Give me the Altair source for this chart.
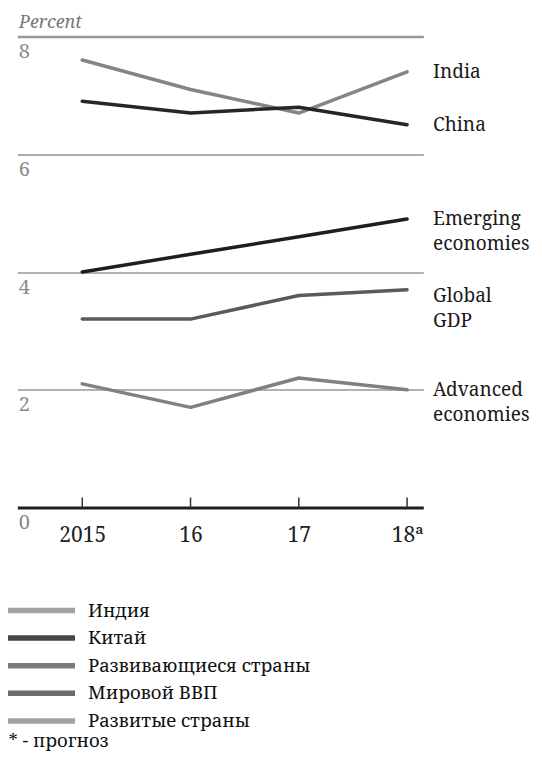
import altair as alt
import pandas as pd

# ---- data ----
years = [2015, 2016, 2017, 2018]
tick_labels = ["2015", "16", "17", "18ª"]
series_keys = ["India", "China", "Emerging economies", "Global GDP", "Advanced economies"]
end_labels = ["India", "China", "Emerging\neconomies", "Global\nGDP", "Advanced\neconomies"]
india = [7.6, 7.1, 6.7, 7.4]
china = [6.9, 6.7, 6.8, 6.5]
emerging = [4.0, 4.3, 4.6, 4.9]
global_gdp = [3.2, 3.2, 3.6, 3.7]
advanced = [2.1, 1.7, 2.2, 2.0]
y_ticks = [0, 2, 4, 6, 8]
legend_names = ["Индия", "Китай", "Развивающиеся страны", "Мировой ВВП", "Развитые страны"]
footnote = "* - прогноз"
y_title = "Percent"

# ---- styles ----
line_colors = ["#858585", "#262626", "#1e1e1e", "#5a5a5a", "#808080"]
legend_colors = ["#a2a2a2", "#474747", "#7a7a7a", "#6b6b6b", "#a2a2a2"]
SERIF = "Noto Serif"

values = [india, china, emerging, global_gdp, advanced]
rows = []
for key, vals in zip(series_keys, values):
    for yr, v in zip(years, vals):
        rows.append({"series": key, "year": yr, "value": v})
df = pd.DataFrame(rows)

lab_df = pd.DataFrame({
    "series": series_keys,
    "label": end_labels,
    "year": [years[-1]] * len(series_keys),
    "value": [v[-1] for v in values],
})

ticks_df = pd.DataFrame({"year": years})
title_df = pd.DataFrame({"t": [y_title]})

x_scale = alt.Scale(domain=[2014.4, 2018.15], nice=False, zero=False)
y_scale = alt.Scale(domain=[0, 8], nice=False)

label_expr = " : ".join(
    f"datum.value == {y} ? '{t}'" for y, t in zip(years, tick_labels)
) + " : ''"

x_axis = alt.Axis(
    values=years, labelExpr=label_expr, title=None, grid=False, ticks=False, tickSize=0,
    domain=True, domainColor="#1e1e1e", domainWidth=3,
    labelFont=SERIF, labelFontSize=21, labelColor="#222222", labelPadding=17,
    labelBaseline="top", labelAlign="center",
)
y_axis = alt.Axis(
    values=y_ticks, format="d", title=None, domain=False, ticks=False, tickSize=0,
    labelAlign="left", labelBaseline="top", labelPadding=-1, labelOffset=5,
    labelFont=SERIF, labelFontSize=20, labelColor="#8a8a8a",
    grid=True,
    gridColor={"condition": {"test": "datum.value == 6", "value": "#ababab"}, "value": "#979797"},
    gridWidth={"condition": [{"test": "datum.value == 8", "value": 2.6},
                             {"test": "datum.value == 6", "value": 2.2}], "value": 1.3},
    gridOpacity={"condition": {"test": "datum.value == 0", "value": 0}, "value": 1},
)

lines = alt.Chart(df).mark_line(strokeWidth=3.5, strokeCap="round", strokeJoin="round").encode(
    x=alt.X("year:Q", scale=x_scale, axis=x_axis),
    y=alt.Y("value:Q", scale=y_scale, axis=y_axis),
    color=alt.Color("series:N", scale=alt.Scale(domain=series_keys, range=line_colors), legend=None),
    detail="series:N",
)

ticks = alt.Chart(ticks_df).mark_rule(color="#333333", strokeWidth=1.5).encode(
    x=alt.X("year:Q", scale=x_scale),
    y=alt.value(471),
    y2=alt.value(461),
)

label_style = dict(align="left", baseline="middle", dx=26, font=SERIF, fontSize=19,
                   lineBreak="\n", lineHeight=25, color="#1a1a1a")
labels_main = alt.Chart(lab_df).transform_filter(
    "datum.series != 'Global GDP'"
).mark_text(**label_style).encode(
    x=alt.X("year:Q", scale=x_scale),
    y=alt.Y("value:Q", scale=y_scale),
    text="label:N",
)
labels_gdp = alt.Chart(lab_df).transform_filter(
    "datum.series == 'Global GDP'"
).mark_text(dy=6, **label_style).encode(
    x=alt.X("year:Q", scale=x_scale),
    y=alt.Y("value:Q", scale=y_scale),
    text="label:N",
)

title_txt = alt.Chart(title_df).mark_text(
    align="left", baseline="middle", font=SERIF, fontSize=18, fontStyle="italic", color="#777777",
).encode(x=alt.value(1.5), y=alt.value(-14), text="t:N")

main = alt.layer(lines, ticks, labels_main, labels_gdp, title_txt)

# ---- legend below the plot ----
leg_domain = legend_names + [footnote]
leg_scale = alt.Scale(type="point", domain=leg_domain, range=[574, 712], padding=0)
leg_df = pd.DataFrame({"name": legend_names})
foot_df = pd.DataFrame({"name": [footnote]})

leg_rules = alt.Chart(leg_df).mark_rule(strokeWidth=5.5).encode(
    x=alt.value(-9.3), x2=alt.value(57.7),
    y=alt.Y("name:N", scale=leg_scale, axis=None),
    stroke=alt.Stroke("name:N", scale=alt.Scale(domain=legend_names, range=legend_colors), legend=None),
)
leg_text = alt.Chart(leg_df).mark_text(
    align="left", baseline="middle", font=SERIF, fontSize=18.5, color="#111111",
).encode(
    x=alt.value(70.7),
    y=alt.Y("name:N", scale=leg_scale, axis=None),
    text="name:N",
)
foot_text = alt.Chart(foot_df).mark_text(
    align="left", baseline="middle", dy=-8, font=SERIF, fontSize=18.5, color="#111111",
).encode(
    x=alt.value(-8.8),
    y=alt.Y("name:N", scale=leg_scale, axis=None),
    text="name:N",
)
legend = alt.layer(leg_rules, leg_text, foot_text)

chart = alt.layer(main, legend).resolve_scale(y="independent").properties(
    width=406, height=471,
    autosize=alt.AutoSizeParams(type="none"),
    padding={"left": 9.3, "top": 28.5, "right": 110.7, "bottom": 247.5},
).configure(
    background="white"
).configure_view(stroke=None)

chart.save("out.html", embed_options={"renderer": "svg", "actions": False})
